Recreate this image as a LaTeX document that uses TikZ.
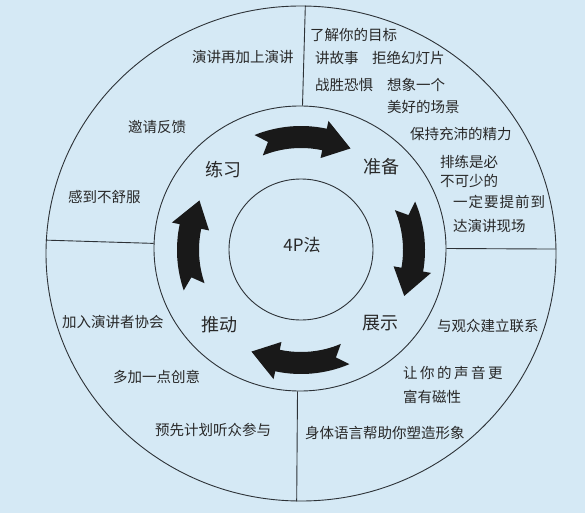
\documentclass[tikz,border=0pt]{standalone}
\usepackage{fontspec}
\newfontfamily\cjk{Noto Sans CJK SC}
\usetikzlibrary{shapes.geometric}
\definecolor{bg}{RGB}{213,233,245}
\definecolor{ln}{RGB}{45,50,55}
\definecolor{tx}{RGB}{40,40,40}
\newcommand\cwarrow[2]{%
  \fill[arrowfill] (#1:124pt) arc[start angle=#1, end angle={#2+14}, radius=124pt]
    -- ({#2+14}:132pt) -- (#2:113pt) -- ({#2+14}:94pt) -- ({#2+14}:102pt)
    arc[start angle={#2+14}, end angle=#1, radius=102pt]
    -- ({#1-5}:113pt) -- cycle;}
\begin{document}
\begin{tikzpicture}[x=1pt,y=-1pt,
  ring/.style={draw=ln, line width=0.9pt, ellipse, inner sep=0pt},
  small/.style={text=tx, font=\cjk\fontsize{14.5}{16}\selectfont, inner sep=0pt, anchor=west},
  big/.style={text=tx, font=\cjk\fontsize{18}{20}\selectfont, inner sep=0pt},
  divider/.style={draw=ln, line width=0.9pt},
  arrowfill/.style={fill=black!90}]
\fill[bg] (0,0) rectangle (585,513);
\useasboundingbox (0,0) rectangle (585,513);

% rings
\node[ring, minimum width=510pt, minimum height=495pt] (outer) at (301,253.5) {};
\node[ring, minimum width=292pt, minimum height=285pt] (middle) at (300,248.5) {};
\node[ring, minimum width=144pt, minimum height=141pt] (inner) at (301,249.5) {};

% dividers
\draw[divider] (outer.89.8) -- (middle.89.6);
\draw[divider] (outer.177) -- (middle.178);
\draw[divider] (middle.0.6) -- (outer.1.6);
\draw[divider] (middle.269.6) -- (outer.269.1);

% arrows
\begin{scope}[shift={(301,250)}]
  \cwarrow{112}{64}
  \cwarrow{23}{-24}
  \cwarrow{-67}{-116}
  \cwarrow{-161}{-206}
\end{scope}

% centre and stage labels
\node[big, font=\cjk\fontsize{17}{20}\selectfont] (center) at (302,245) {4P法};
\node[big] (prep) at (381,167) {准备};
\node[big] (prac) at (223,170) {练习};
\node[big] (push) at (219,325) {推动};
\node[big] (show) at (380,323) {展示};

% preparation quadrant
\node[small] (p1) at (310,35) {了解你的目标};
\node[small] (p2) at (315,58) {讲故事};
\node[small] (p3) at (372,58) {拒绝幻灯片};
\node[small] (p4) at (315,85) {战胜恐惧};
\node[small] (p5) at (387,85) {想象一个};
\node[small] (p6) at (387,107) {美好的场景};
\node[small] (p7) at (410,134) {保持充沛的精力};
\node[small] (p8) at (440,162) {排练是必};
\node[small] (p9) at (440,181) {不可少的};
\node[small] (p10) at (453,202) {一\hspace{1pt}定\hspace{1pt}要\hspace{1pt}提\hspace{1pt}前\hspace{1pt}到};
\node[small] (p11) at (453,226) {达演讲现场};

% practice quadrant
\node[small] (q1) at (192,57) {演讲再加上演讲};
\node[small] (q2) at (128,127) {邀请反馈};
\node[small] (q3) at (68,197) {感到不舒服};

% push quadrant
\node[small] (u1) at (62,322) {加入演讲者协会};
\node[small] (u2) at (113,377) {多加一点创意};
\node[small] (u3) at (155,430) {预先计划听众参与};

% show quadrant
\node[small] (s1) at (437,326) {与观众建立联系};
\node[small] (s2) at (403,373) {让\hspace{2.5pt}你\hspace{2.5pt}的\hspace{2.5pt}声\hspace{2.5pt}音\hspace{2.5pt}更};
\node[small] (s3) at (403,397) {富有磁性};
\node[small] (s4) at (305,433) {身体语言帮助你塑造形象};
\end{tikzpicture}
\end{document}
